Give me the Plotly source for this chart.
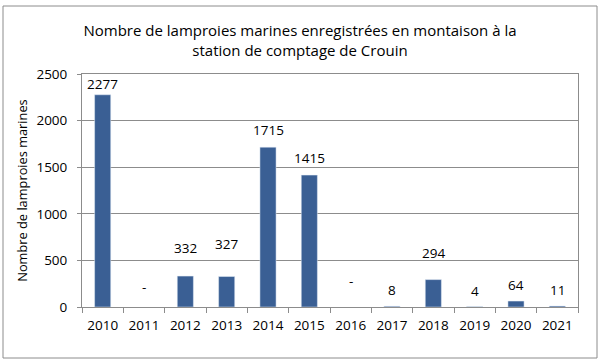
import plotly.graph_objects as go

years = ["2010", "2011", "2012", "2013", "2014", "2015", "2016", "2017", "2018", "2019", "2020", "2021"]
counts = [2277, None, 332, 327, 1715, 1415, None, 8, 294, 4, 64, 11]
labels = ["2277", "-", "332", "327", "1715", "1415", "-", "8", "294", "4", "64", "11"]
label_shift = [11, 20, 28, 33, 17, 17, 26, 16, 27, 16, 16, 16]

W, H = 603, 362
ML, MR, MT, MB = 82, 25, 74, 55
FONT = "Open Sans"
BAR = "#3A5F94"
GRID = "#8C8C8C"

fig = go.Figure()
fig.add_trace(go.Bar(x=list(range(len(years))), y=counts, marker_color=BAR, width=0.39,
                     hovertext=years, hoverinfo="text+y"))

for i, (v, t, s) in enumerate(zip(counts, labels, label_shift)):
    fig.add_annotation(x=i, y=(v or 0), text=t, showarrow=False,
                       yanchor="middle", yshift=s,
                       font=dict(family=FONT, size=13.5, color="#000000"))

pw = W - ML - MR
ph = H - MT - MB
fig.add_shape(type="rect", xref="paper", yref="paper",
              x0=(3 - ML) / pw, x1=(597 - ML) / pw,
              y0=(H - MB - 358) / ph, y1=(H - MB - 6) / ph,
              line=dict(color="#8C8C8C", width=1), fillcolor="rgba(0,0,0,0)",
              layer="below")

fig.update_layout(
    width=W, height=H,
    margin=dict(l=ML, r=MR, t=MT, b=MB, autoexpand=False),
    paper_bgcolor="white", plot_bgcolor="white",
    font=dict(family=FONT, size=13.5, color="#000000"),
    showlegend=False,
    title=dict(text="Nombre de lamproies marines enregistrées en montaison à la<br>station de comptage de Crouin",
               x=300 / W, xanchor="center", y=1 - 36 / H, yanchor="top",
               font=dict(family=FONT, size=15, color="#000000")),
)
fig.update_xaxes(range=[-0.5, len(years) - 0.5], tickmode="array", automargin=False,
                 tickvals=list(range(len(years))), ticktext=years,
                 showline=True, linecolor=GRID, linewidth=1, mirror=True,
                 ticks="", showgrid=False, ticklabelstandoff=6,
                 tickfont=dict(family=FONT, size=13.5),
                 minor=dict(tickmode="array", tickvals=[i - 0.5 for i in range(len(years) + 1)],
                            ticks="outside", ticklen=5, tickcolor=GRID, showgrid=False))
fig.update_yaxes(range=[0, 2500], dtick=500, showline=True, linecolor=GRID, linewidth=1, mirror=True,
                 automargin=False,
                 ticks="outside", ticklen=4, tickcolor=GRID, showgrid=True, gridcolor=GRID,
                 gridwidth=1, zeroline=False, ticklabelstandoff=7,
                 tickfont=dict(family=FONT, size=13.5),
                 title=dict(text="Nombre de lamproies marines", standoff=5,
                            font=dict(family=FONT, size=12.8)))

fig.write_html("out.html", config={"displayModeBar": False},
               post_script="document.body.style.margin='0';")
